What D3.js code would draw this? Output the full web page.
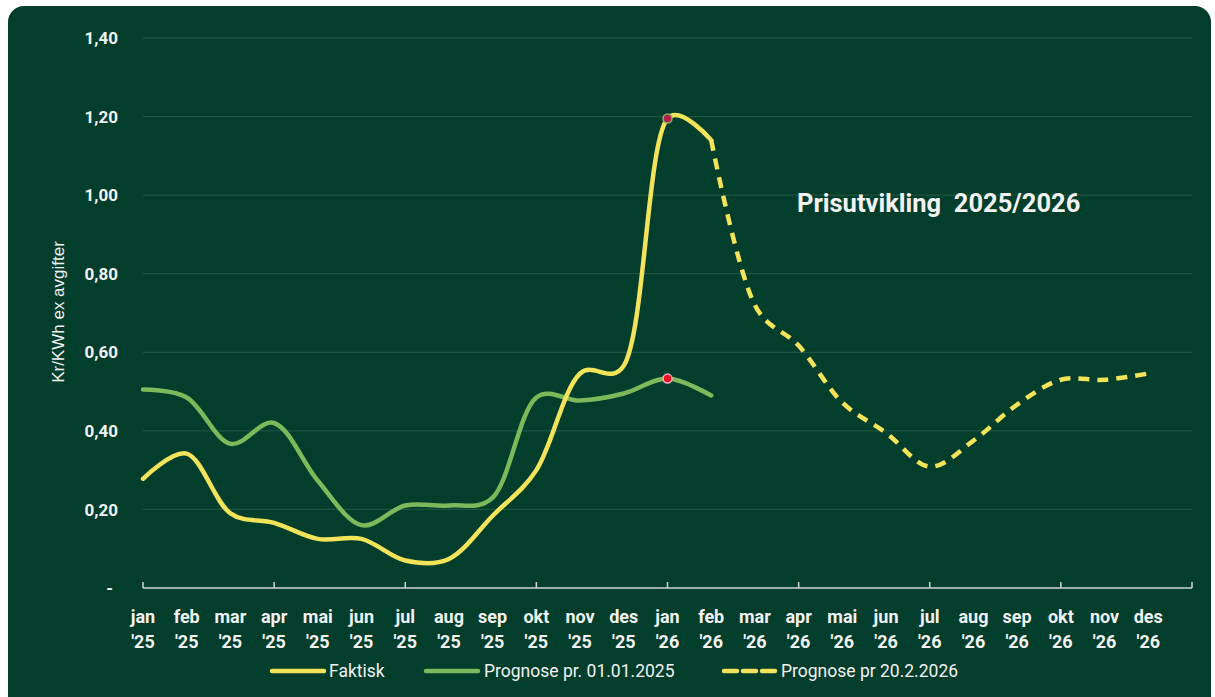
<!DOCTYPE html>
<html>
<head>
<meta charset="utf-8">
<script src="https://cdn.jsdelivr.net/npm/d3@7"></script>
<style>
  body { margin: 0; background: #ffffff; }
  text { font-family: "Roboto", "Liberation Sans", sans-serif; }
</style>
</head>
<body>
<div id="canvas"></div>
<script>
"use strict"

/* Data: months on the x axis */
let months = ["jan", "feb", "mar", "apr", "mai", "jun", "jul", "aug", "sep", "okt", "nov", "des",
              "jan", "feb", "mar", "apr", "mai", "jun", "jul", "aug", "sep", "okt", "nov", "des"];
let years = ["'25", "'25", "'25", "'25", "'25", "'25", "'25", "'25", "'25", "'25", "'25", "'25",
             "'26", "'26", "'26", "'26", "'26", "'26", "'26", "'26", "'26", "'26", "'26", "'26"];

/* Series values (kr/kWh), jan '25 -> feb '26 */
let faktisk = [0.278, 0.342, 0.19, 0.166, 0.125, 0.125, 0.07, 0.074, 0.184, 0.30, 0.546, 0.566, 1.195, 1.14];
let prognose2025 = [0.505, 0.485, 0.367, 0.42, 0.273, 0.16, 0.21, 0.21, 0.23, 0.485, 0.477, 0.495, 0.533, 0.49];
/* Prognose from feb '26 -> des '26 */
let prognose2026Start = 13;
let prognose2026 = [1.14, 0.72, 0.617, 0.472, 0.395, 0.309, 0.375, 0.467, 0.53, 0.53, 0.546];

let yTicks = [0, 0.2, 0.4, 0.6, 0.8, 1.0, 1.2, 1.4];
let markIndex = 12;

let seriesNames = ["Faktisk", "Prognose pr. 01.01.2025", "Prognose pr 20.2.2026"];

/* Configuration variables: drawing */
let svgWidth = 1215;
let svgHeight = 697;
let bg = "#033d2c";
let yellow = "#f2e35a";
let green = "#7cb95b";
let textColor = "#f2f2f2";

let svg = d3.select("#canvas")
    .append("svg")
    .attr("width", svgWidth)
    .attr("height", svgHeight);

/* background panel */
svg.append("rect")
    .attr("x", 8)
    .attr("y", 6)
    .attr("width", 1203)
    .attr("height", 720)
    .attr("rx", 16)
    .attr("fill", bg);

let xScale = d3.scaleLinear()
    .domain([0, 24])
    .range([143, 1192]);

let yScale = d3.scaleLinear()
    .domain([0, 1.4])
    .range([588, 38]);

/* gridlines */
svg.selectAll(".grid")
    .data(yTicks.filter(d => d > 0))
    .join("line")
    .attr("x1", xScale(0))
    .attr("x2", xScale(24))
    .attr("y1", d => yScale(d))
    .attr("y2", d => yScale(d))
    .attr("stroke", "#1d5541")
    .attr("stroke-width", 1.3);

/* y tick labels */
svg.selectAll(".ylab")
    .data(yTicks)
    .join("text")
    .attr("x", d => d == 0 ? 113 : 118)
    .attr("y", d => yScale(d))
    .attr("dy", "0.36em")
    .attr("text-anchor", "end")
    .attr("fill", textColor)
    .attr("font-size", 17)
    .attr("font-weight", "bold")
    .text(d => d == 0 ? "-" : d.toFixed(2).replace(".", ","));

/* x axis line + ticks */
svg.append("line")
    .attr("x1", xScale(0))
    .attr("x2", xScale(24))
    .attr("y1", 588)
    .attr("y2", 588)
    .attr("stroke", "#d0d6d3")
    .attr("stroke-width", 1.5);

svg.selectAll(".xtick")
    .data(d3.range(0, 25, 3))
    .join("line")
    .attr("x1", d => xScale(d))
    .attr("x2", d => xScale(d))
    .attr("y1", 582)
    .attr("y2", 588)
    .attr("stroke", "#d0d6d3")
    .attr("stroke-width", 1.5);

/* x labels */
svg.selectAll(".xlab")
    .data(months)
    .join("text")
    .attr("x", (d, i) => xScale(i))
    .attr("y", 623)
    .attr("text-anchor", "middle")
    .attr("fill", textColor)
    .attr("font-size", 18)
    .attr("font-weight", "bold")
    .text(d => d);

svg.selectAll(".xlabyr")
    .data(years)
    .join("text")
    .attr("x", (d, i) => xScale(i))
    .attr("y", 648)
    .attr("text-anchor", "middle")
    .attr("fill", textColor)
    .attr("font-size", 18)
    .attr("font-weight", "bold")
    .text(d => d);

/* y axis title */
svg.append("text")
    .attr("transform", "translate(64,312) rotate(-90)")
    .attr("text-anchor", "middle")
    .attr("fill", textColor)
    .attr("font-size", 17)
    .style("font-family", "Liberation Sans, Arial, sans-serif")
    .text("Kr/KWh ex avgifter");

/* chart title */
svg.append("text")
    .attr("x", 797)
    .attr("y", 212)
    .attr("fill", textColor)
    .attr("font-size", 25.5)
    .attr("font-weight", "bold")
    .style("white-space", "pre")
    .text("Prisutvikling  2025/2026");

/* lines */
let line = d3.line()
    .x(d => xScale(d.i))
    .y(d => yScale(d.v))
    .curve(d3.curveCatmullRom.alpha(0.3));

let toPts = (arr, start) => arr.map((v, k) => ({ i: start + k, v: v }));

svg.append("path")
    .attr("d", line(toPts(prognose2025, 0)))
    .attr("fill", "none")
    .attr("stroke", green)
    .attr("stroke-width", 4.5)
    .attr("stroke-linecap", "round");

svg.append("path")
    .attr("d", line(toPts(faktisk, 0)))
    .attr("fill", "none")
    .attr("stroke", yellow)
    .attr("stroke-width", 4.5)
    .attr("stroke-linecap", "round");

svg.append("path")
    .attr("d", line(toPts(prognose2026, prognose2026Start)))
    .attr("fill", "none")
    .attr("stroke", yellow)
    .attr("stroke-width", 4.5)
    .attr("stroke-dasharray", "11,8");

/* markers on jan '26 */
svg.append("circle")
    .attr("cx", xScale(markIndex))
    .attr("cy", yScale(faktisk[markIndex]))
    .attr("r", 4.5)
    .attr("fill", "#b3204a")
    .attr("stroke", "#8fae6a")
    .attr("stroke-width", 1.5);

svg.append("circle")
    .attr("cx", xScale(markIndex))
    .attr("cy", yScale(prognose2025[markIndex]))
    .attr("r", 4.5)
    .attr("fill", "#ee1020")
    .attr("stroke", "#f0b8c0")
    .attr("stroke-width", 1.5);

/* legend */
let legend = [
    { x: 272, tx: 329, color: yellow, dash: null },
    { x: 426, tx: 484, color: green, dash: null },
    { x: 724, tx: 781, color: yellow, dash: "13,6" }
];

legend.forEach(function (l, k) {
    svg.append("line")
        .attr("x1", l.x)
        .attr("x2", l.x + 52)
        .attr("y1", 671)
        .attr("y2", 671)
        .attr("stroke", l.color)
        .attr("stroke-width", 4.5)
        .attr("stroke-linecap", "round")
        .attr("stroke-dasharray", l.dash);
    svg.append("text")
        .attr("x", l.tx)
        .attr("y", 677)
        .attr("fill", textColor)
        .attr("font-size", 17.5)
        .text(seriesNames[k]);
});
</script>
</body>
</html>
